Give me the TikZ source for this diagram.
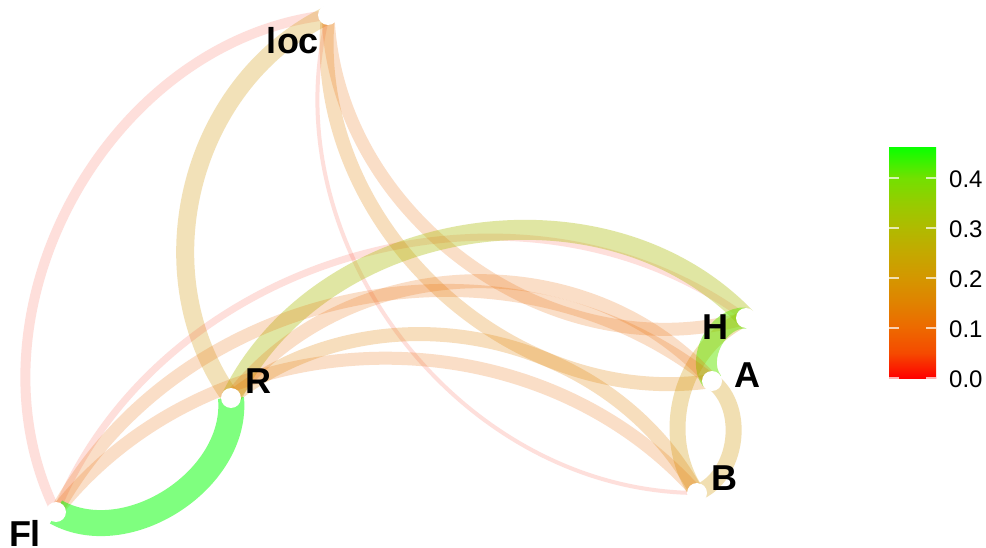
\documentclass[tikz,border=0pt]{standalone}
\usepackage{fontspec}
\setmainfont{Liberation Sans}
\pgfdeclarelayer{back}
\pgfdeclarelayer{edges}
\pgfsetlayers{back,edges,main}

% colour scale of the edge weights (red = 0 ... green = 0.46)
\definecolor{w02}{RGB}{250,30,0}
\definecolor{w10}{RGB}{235,105,0}
\definecolor{w15}{RGB}{225,130,0}
\definecolor{w20}{RGB}{210,150,0}
\definecolor{w30}{RGB}{170,188,0}
\definecolor{w40}{RGB}{100,232,0}
\definecolor{w46}{RGB}{0,255,0}

% key shading: the bar is mapped onto 25bp..75bp
\pgfdeclareverticalshading{weightbar}{100bp}{%
  rgb(0bp)=(1,0,0);
  rgb(25bp)=(1,0,0);
  rgb(30.43bp)=(0.96,0.29,0);
  rgb(35.87bp)=(0.93,0.41,0);
  rgb(41.3bp)=(0.88,0.51,0);
  rgb(46.74bp)=(0.83,0.59,0);
  rgb(52.17bp)=(0.77,0.66,0);
  rgb(57.61bp)=(0.69,0.73,0);
  rgb(63.04bp)=(0.59,0.80,0);
  rgb(68.48bp)=(0.45,0.88,0);
  rgb(75bp)=(0.05,1,0);
  rgb(100bp)=(0.05,1,0)}

\tikzset{
  vertex/.style={circle, fill=white, inner sep=0pt, minimum size=20pt},
  vlabel/.style={font=\bfseries\fontsize{36}{36}\selectfont, inner sep=0pt},
  tick/.style={font=\fontsize{24}{24}\selectfont, anchor=west, inner sep=0pt},
  edgeline/.style n args={3}{draw=#1, line width=#2pt, draw opacity=#3},
}

\begin{document}
\begin{tikzpicture}[x=1pt,y=-1pt]
  \begin{pgfonlayer}{back}
    \fill[white] (0,0) rectangle (986,548);
  \end{pgfonlayer}
  \useasboundingbox (0,0) rectangle (986,548);

  % vertices
  \node[vertex] (loc) at (328,15) {};
  \node[vertex] (H)   at (746,318) {};
  \node[vertex] (B)   at (697,493) {};
  \node[vertex] (A)   at (712,381) {};
  \node[vertex] (Fl)  at (56,512) {};
  \node[vertex] (R)   at (231,398) {};

  % vertex labels
  \node[vlabel] (tloc) at (293,41) {loc};
  \node[vlabel] (tH)   at (715,327) {H};
  \node[vlabel] (tB)   at (724,478) {B};
  \node[vlabel] (tA)   at (747,375) {A};
  \node[vlabel] (tFl)  at (25,533) {Fl};
  \node[vlabel] (tR)   at (258,381) {R};

  % weighted edges
  \begin{pgfonlayer}{edges}
    \draw[edgeline={w02}{10}{0.14}] (loc.center) to[bend right=55] (Fl.center);
    \draw[edgeline={w20}{18}{0.28}] (loc.center) to[bend right=50] (R.center);
    \draw[edgeline={w02}{4}{0.14}]  (loc.center) to[bend right=52] (B.center);
    \draw[edgeline={w15}{14}{0.26}] (loc.center) to[bend right=52] (A.center);
    \draw[edgeline={w10}{13}{0.22}] (loc.center) to[bend right=52] (H.center);
    \draw[edgeline={w02}{7}{0.14}]  (H.center) to[bend right=52] (Fl.center);
    \draw[edgeline={w30}{20}{0.36}] (H.center) to[bend right=55] (R.center);
    \draw[edgeline={w20}{16}{0.3}]  (H.center) to[bend right=50] (B.center);
    \draw[edgeline={w40}{21}{0.5}]  (H.center) to[bend right=65] (A.center);
    \draw[edgeline={w20}{16}{0.3}]  (B.center) to[bend right=60] (A.center);
    \draw[edgeline={w10}{13}{0.22}] (B.center) to[bend right=50] (Fl.center);
    \draw[edgeline={w15}{14}{0.26}] (B.center) to[bend right=50] (R.center);
    \draw[edgeline={w10}{13}{0.22}] (A.center) to[bend right=50] (Fl.center);
    \draw[edgeline={w10}{14}{0.22}] (A.center) to[bend right=50] (R.center);
    \draw[edgeline={w46}{26}{0.5}]  (Fl.center) to[bend right=62] (R.center);
  \end{pgfonlayer}

  % colour key
  \shade[shading=weightbar] (889,148) rectangle (936,378);
  \foreach \y in {178,228,278,328,378} {
    \draw[white, line width=1.5pt, opacity=0.7] (889,\y) -- (899,\y);
    \draw[white, line width=1.5pt, opacity=0.7] (926,\y) -- (936,\y);
  }
  \node[tick] (k4) at (949,179) {0.4};
  \node[tick] (k3) at (949,229) {0.3};
  \node[tick] (k2) at (949,279) {0.2};
  \node[tick] (k1) at (949,329) {0.1};
  \node[tick] (k0) at (949,379) {0.0};
\end{tikzpicture}
\end{document}
